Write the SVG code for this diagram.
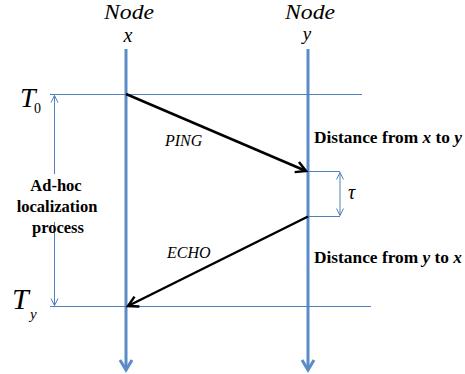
<svg xmlns="http://www.w3.org/2000/svg" width="465" height="374" viewBox="0 0 465 374">
<style>
.life{stroke:#5B8BC8;stroke-width:3;fill:none}
.thin{stroke:#4F81BD;stroke-width:1;fill:none}
.msg{stroke:#000;stroke-width:2.5;fill:none}
.it{font-family:"Liberation Serif","Times New Roman",serif;font-style:italic;fill:#000}
.bd{font-family:"Liberation Serif","Times New Roman",serif;font-weight:bold;fill:#000}
.rm{font-family:"Liberation Serif","Times New Roman",serif;fill:#000}
</style>
<defs>
<marker id="blk" markerUnits="userSpaceOnUse" markerWidth="16" markerHeight="16" viewBox="0 0 16 16" refX="13" refY="8" orient="auto">
<path d="M3,2.5 L13,8 L3,13.5" stroke="#000" stroke-width="2.5" fill="none" stroke-linejoin="miter"/>
</marker>
<marker id="thinEnd" markerUnits="userSpaceOnUse" markerWidth="10" markerHeight="10" viewBox="0 0 10 10" refX="9" refY="5" orient="auto-start-reverse">
<path d="M2,1.5 L9,5 L2,8.5" stroke="#4F81BD" stroke-width="1" fill="none"/>
</marker>
<marker id="lifeEnd" markerUnits="userSpaceOnUse" markerWidth="16" markerHeight="16" viewBox="0 0 16 16" refX="13" refY="8" orient="auto">
<path d="M3,2 L13,8 L3,14" stroke="#5B8BC8" stroke-width="3" fill="none"/>
</marker>
</defs>

<g id="node-x">
<text class="it" x="129" y="19" font-size="21" text-anchor="middle" textLength="50" lengthAdjust="spacingAndGlyphs">Node</text>
<text class="it" x="128" y="42" font-size="20" text-anchor="middle">x</text>
<line class="life" x1="126" y1="49" x2="126" y2="370" marker-end="url(#lifeEnd)"/>
</g>

<g id="node-y">
<text class="it" x="310" y="19" font-size="21" text-anchor="middle" textLength="50" lengthAdjust="spacingAndGlyphs">Node</text>
<text class="it" x="307" y="40" font-size="19" text-anchor="middle">y</text>
<line class="life" x1="308" y1="49" x2="308" y2="370" marker-end="url(#lifeEnd)"/>
</g>

<g id="time-T0">
<line class="thin" x1="50" y1="94.5" x2="362" y2="94.5"/>
<text class="it" x="20" y="107" font-size="28">T</text>
<text class="rm" x="34" y="113" font-size="14">0</text>
</g>

<g id="time-Ty">
<line class="thin" x1="50" y1="306.5" x2="371" y2="306.5"/>
<text class="it" x="12" y="309" font-size="30">T</text>
<text class="it" x="30" y="319" font-size="15">y</text>
</g>

<g id="process">
<line class="thin" x1="54.5" y1="174" x2="54.5" y2="95.5" marker-end="url(#thinEnd)"/>
<line class="thin" x1="54.5" y1="222" x2="54.5" y2="305.5" marker-end="url(#thinEnd)"/>
<text class="bd" x="56" y="191" font-size="16.5" text-anchor="middle">Ad-hoc</text>
<text class="bd" x="57" y="212" font-size="16.5" text-anchor="middle">localization</text>
<text class="bd" x="58" y="233" font-size="16.5" text-anchor="middle">process</text>
</g>

<g id="tau">
<line class="thin" x1="308" y1="171.5" x2="340" y2="171.5"/>
<line class="thin" x1="308" y1="216.5" x2="340" y2="216.5"/>
<line class="thin" x1="340" y1="172.5" x2="340" y2="215.5" marker-start="url(#thinEnd)" marker-end="url(#thinEnd)"/>
<text class="it" x="348" y="199" font-size="20">τ</text>
</g>

<g id="connectors">
<line class="msg" x1="126" y1="94" x2="306" y2="171" marker-end="url(#blk)"/>
<line class="msg" x1="308" y1="216.5" x2="128" y2="306" marker-end="url(#blk)"/>
<text class="it" x="165" y="146" font-size="16">PING</text>
<text class="it" x="167" y="258" font-size="16">ECHO</text>
<text class="bd" x="314" y="143" font-size="17" textLength="148" lengthAdjust="spacingAndGlyphs">Distance from <tspan font-style="italic">x</tspan> to <tspan font-style="italic">y</tspan></text>
<text class="bd" x="314" y="263" font-size="17" textLength="148" lengthAdjust="spacingAndGlyphs">Distance from <tspan font-style="italic">y</tspan> to <tspan font-style="italic">x</tspan></text>
</g>
</svg>
